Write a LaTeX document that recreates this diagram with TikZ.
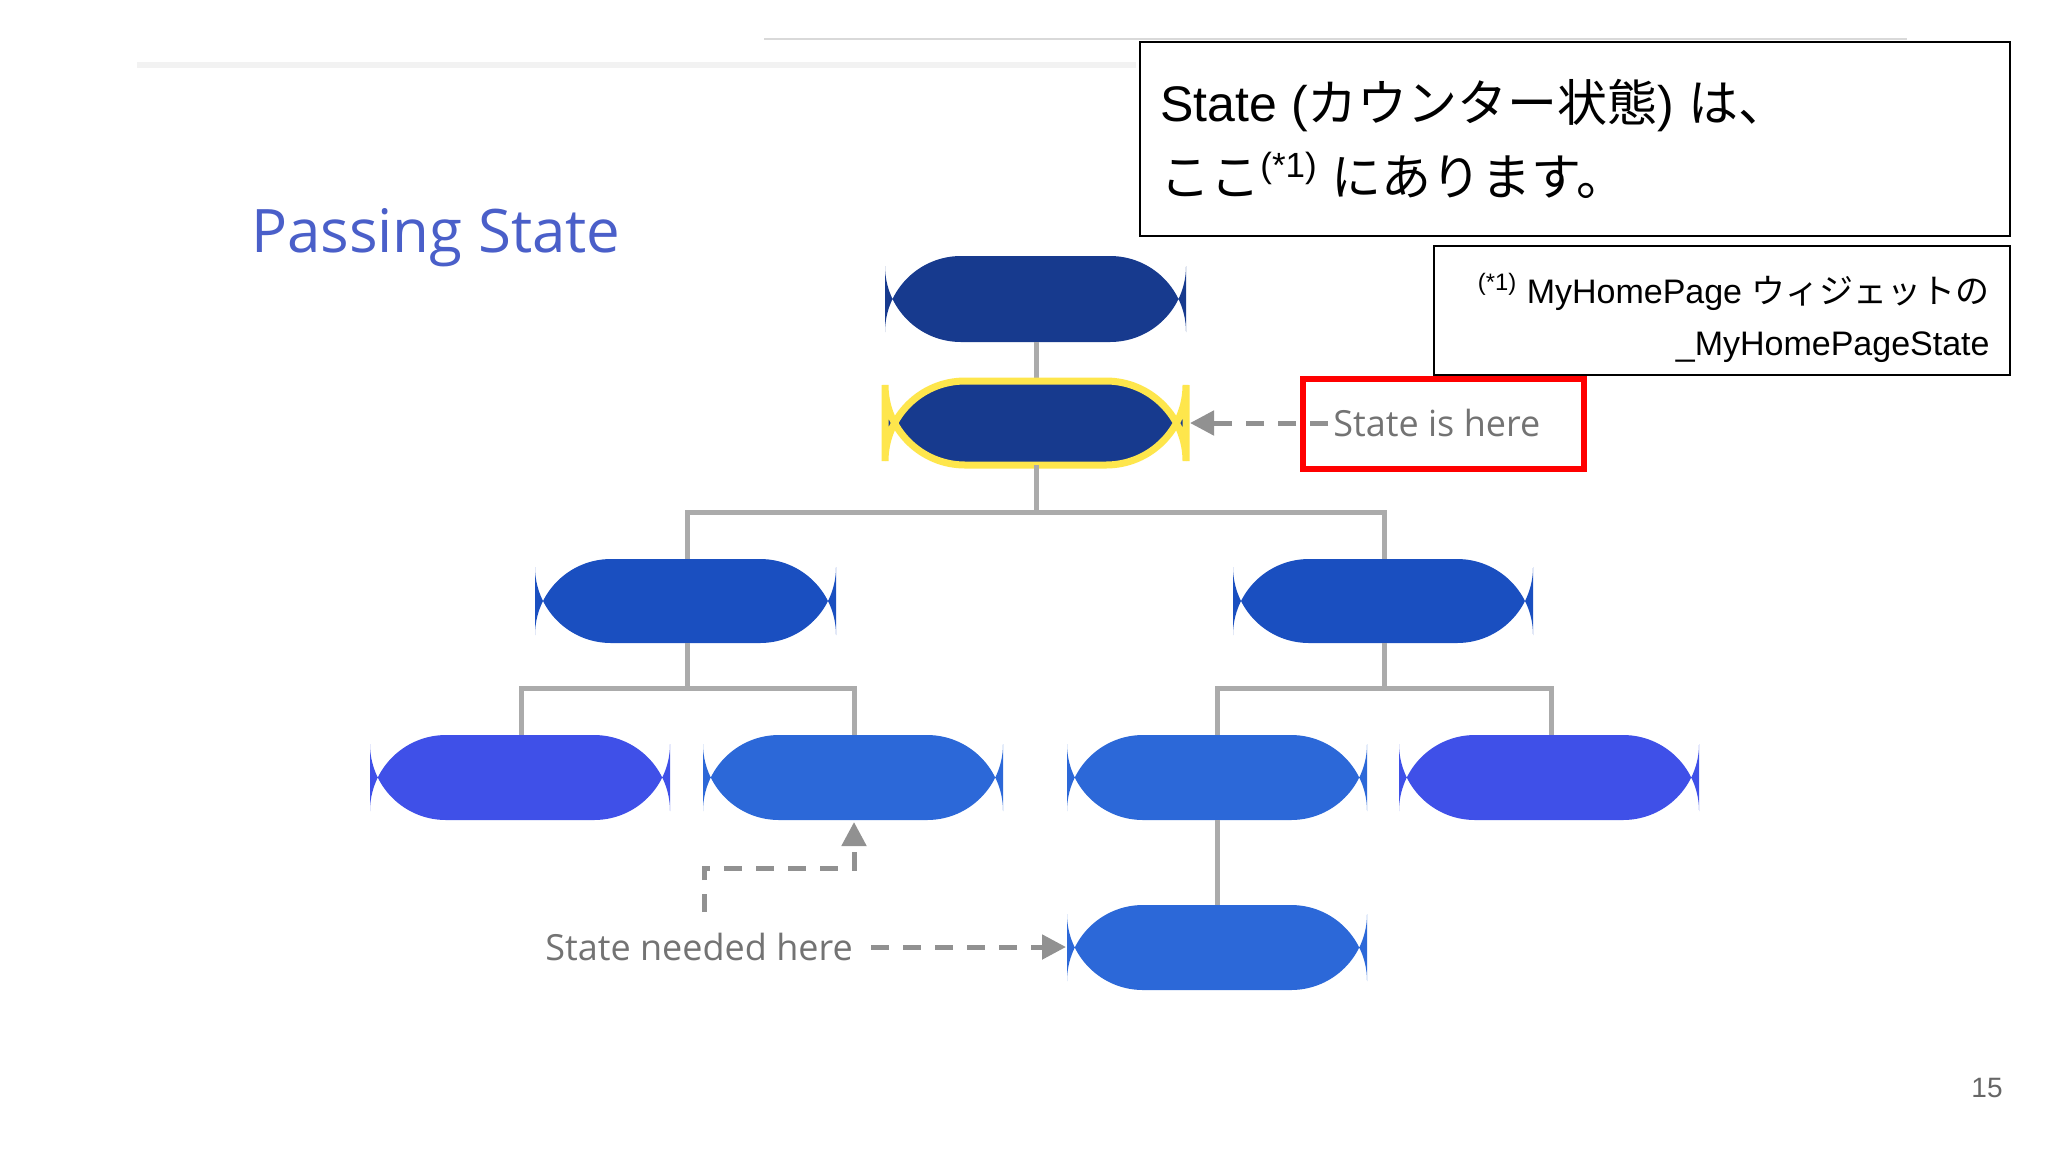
\documentclass[tikz,border=0pt]{standalone}
\usepackage{fontspec}
\setmainfont{Liberation Sans}
\newfontfamily\jp{Noto Sans CJK JP}
\newfontfamily\gs{Open Sans}
\usetikzlibrary{arrows.meta}
\definecolor{navy}{HTML}{173A8E}
\definecolor{midblue}{HTML}{1A4FC0}
\definecolor{brightblue}{HTML}{3F50E8}
\definecolor{skyblue}{HTML}{2C68D8}
\definecolor{conn}{HTML}{ABABAB}
\definecolor{titleblue}{HTML}{4A5FC9}
\tikzset{
  pill/.style={rounded corners=38, inner sep=0pt},
  link/.style={draw=conn, line width=2.5pt},
  dashlink/.style={draw=conn!85!black, line width=2.5pt, dash pattern=on 9pt off 7pt, -{Triangle[length=12pt,width=12pt]}},
}
\begin{document}
\begin{tikzpicture}[x=0.5pt,y=-0.5pt]
\useasboundingbox[fill=white] (0,0) rectangle (2048,1152);
\draw[black!15, line width=1.2pt] (764,39) -- (1907,39);
\draw[black!5, line width=3pt] (137,65) -- (1136,65);
\node[anchor=west, text=titleblue, font=\gs\fontsize{30}{36}\selectfont] (title) at (244,238) {Passing State};
% tree nodes
\fill[navy, pill] (885,256) rectangle (1186,342);
\coordinate (root) at (1036,342);
\draw[link] (1036,342) -- (1036,381);
\draw[draw=yellow!80!orange!70, line width=3.5pt, fill=navy, rounded corners=40] (885,381) rectangle (1186,465);
\node (state) at (1036,423) {};
\coordinate (stateE) at (1190,423);
\draw[link] (1036,465) -- (1036,512);
\draw[link] (687,559) -- (687,512) -- (1384,512) -- (1384,559);
\fill[midblue, pill] (535,559) rectangle (836,643);
\fill[midblue, pill] (1233,559) rectangle (1533,643);
\draw[link] (687,643) -- (687,688);
\draw[link] (521,735) -- (521,688) -- (854,688) -- (854,735);
\draw[link] (1384,643) -- (1384,688);
\draw[link] (1217,735) -- (1217,688) -- (1551,688) -- (1551,735);
\fill[brightblue, pill] (370,735) rectangle (670,820);
\fill[skyblue, pill] (703,735) rectangle (1003,820);
\coordinate (n2b) at (854,822);
\fill[skyblue, pill] (1067,735) rectangle (1367,820);
\fill[brightblue, pill] (1399,735) rectangle (1699,820);
\draw[link] (1217,820) -- (1217,905);
\fill[skyblue, pill] (1067,905) rectangle (1367,990);
\coordinate (leafW) at (1066,947);
% labels
\node[anchor=west, text=black!55, font=\gs\fontsize{18}{22}\selectfont, inner sep=0pt] (here) at (1333,423) {State is here};
\draw[red, line width=3pt] (1303,379) rectangle (1584,469);
\draw[dashlink] (1328,423) -- (stateE);
\node[anchor=west, text=black!55, font=\gs\fontsize{18}{22}\selectfont, inner sep=0pt] (need) at (545,947) {State needed here};
\draw[dashlink] (871,947) -- (leafW);
\draw[dashlink] (704,912) -- (704,868) -- (854,868) -- (n2b);
% annotation boxes
\draw[black, line width=1pt, fill=white] (1140,42) rectangle (2010,236);
\node[anchor=west, align=left, font=\fontsize{25}{37}\selectfont, inner sep=0pt] (note) at (1160,139)
  {State ({\jp カウンター状態}) {\jp は、}\\{\jp ここ}\textsuperscript{(*1)}\ {\jp にあります。}};
\draw[black, line width=1pt, fill=white] (1434,246) rectangle (2010,375);
\node[anchor=east, align=right, font=\fontsize{17}{26}\selectfont, inner sep=0pt] (foot) at (1990,318)
  {\textsuperscript{(*1)} MyHomePage {\jp ウィジェットの}\\\_MyHomePageState};
\node[text=black!60, font=\fontsize{14}{16}\selectfont] (page) at (1987,1088) {15};
\end{tikzpicture}
\end{document}
